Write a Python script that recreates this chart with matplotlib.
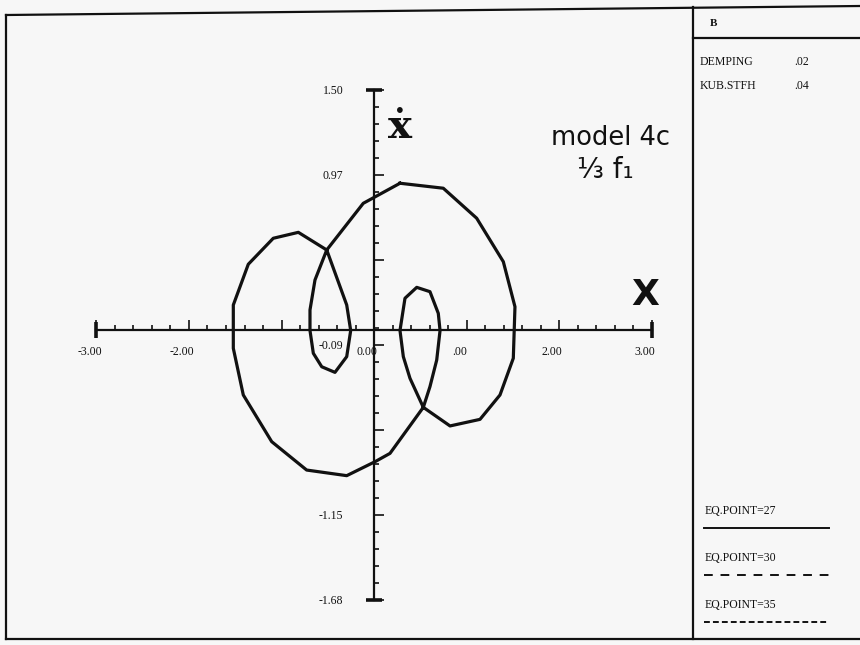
import matplotlib
matplotlib.use("Agg")
import matplotlib.pyplot as plt
from matplotlib.lines import Line2D
from matplotlib.transforms import ScaledTranslation

# Closed phase-plane orbit: displacement x and velocity x-dot
x_disp = [0.281, 0.749, 1.110, 1.398, 1.524, 1.506, 1.362, 1.146, 0.822, 0.533,
          0.389, 0.317, 0.281, 0.335, 0.462, 0.605, 0.695, 0.714, 0.678, 0.605,
          0.533, 0.173, 0.011, -0.295, -0.728, -1.106, -1.413, -1.521, -1.521,
          -1.359, -1.089, -0.818, -0.511, -0.295, -0.252, -0.295, -0.422, -0.565,
          -0.656, -0.692, -0.692, -0.638, -0.511, -0.116, 0.281]
x_vel = [0.918, 0.887, 0.700, 0.429, 0.148, -0.173, -0.402, -0.554, -0.595, -0.479,
         -0.298, -0.163, 0.000, 0.201, 0.269, 0.242, 0.107, 0.000, -0.184, -0.350,
         -0.479, -0.766, -0.818, -0.905, -0.870, -0.693, -0.402, -0.111, 0.159,
         0.413, 0.575, 0.612, 0.502, 0.159, 0.000, -0.163, -0.261, -0.226,
         -0.142, 0.000, 0.128, 0.315, 0.502, 0.793, 0.918]

x_ticks = [-3, -2, -1, 0, 1, 2, 3]
x_tick_labels = ["-3.00", "-2.00", "", "0.00", ".00", "2.00", "3.00"]
y_ticks = [1.50, 0.97, 0.44, -0.09, -0.62, -1.15, -1.68]
y_tick_labels = ["1.50", "0.97", "", "-0.09", "", "-1.15", "-1.68"]

param_names = ["DEMPING", "KUB.STFH"]
param_values = [".02", ".04"]
legend_labels = ["EQ.POINT=27", "EQ.POINT=30", "EQ.POINT=35"]

W, H = 860, 645
BG = "#f7f7f7"
INK = "#111111"
SERIF = ["Liberation Serif", "DejaVu Serif"]

fig = plt.figure(figsize=(W / 100, H / 100), dpi=100, facecolor=BG)
ax = fig.add_axes([0, 0, 1, 1])
ax.set_facecolor("none")

# data-to-pixel layout: origin at (374, 330.5), 92.5 px per x unit, 160.4 px per y unit
X0, SX, Y0, SY = 374.0, 92.5, 330.5, 160.4
ax.set_xlim(-X0 / SX, (W - X0) / SX)
ax.set_ylim((Y0 - H) / SY, Y0 / SY)

# axes crossing at the origin
for side in ("top", "right"):
    ax.spines[side].set_visible(False)
ax.spines["left"].set_position(("data", 0))
ax.spines["bottom"].set_position(("data", 0))
ax.spines["left"].set_bounds(-1.68, 1.50)
ax.spines["bottom"].set_bounds(-3, 3)
for side in ("left", "bottom"):
    ax.spines[side].set_linewidth(1.6)
    ax.spines[side].set_color(INK)

ax.set_xticks(x_ticks)
ax.set_xticklabels(x_tick_labels)
ax.set_xticks([v / 5 for v in range(-15, 16) if v % 5 != 0], minor=True)
ax.set_yticks(y_ticks)
ax.set_yticklabels(y_tick_labels)
y_minor = [round(1.50 - k * 0.106, 3) for k in range(31)]
ax.set_yticks([v for v in y_minor if all(abs(v - m) > 1e-3 for m in y_ticks)], minor=True)

ax.tick_params(axis="both", which="both", direction="in", color=INK, width=1.2)
ax.tick_params(axis="both", which="major", length=7)
ax.tick_params(axis="both", which="minor", length=3.5)
ax.tick_params(axis="x", which="major", pad=11, labelsize=8.5)
ax.tick_params(axis="y", which="major", pad=22, labelsize=8.5)
for lab in ax.get_xticklabels() + ax.get_yticklabels():
    lab.set_fontfamily(SERIF)
    lab.set_color(INK)
for lab in ax.get_xticklabels():
    lab.set_transform(lab.get_transform() + ScaledTranslation(-0.07, 0, fig.dpi_scale_trans))

# end caps on both axes
ax.plot([-3, 3], [0, 0], ls="none", marker="|", ms=11, mew=2.6, color=INK, clip_on=False)
ax.plot([0, 0], [1.50, -1.68], ls="none", marker="_", ms=11, mew=2.6, color=INK, clip_on=False)

# the orbit
ax.plot(x_disp, x_vel, color=INK, lw=2.3, solid_joinstyle="round", zorder=3)

# axis names and annotation
ax.text(0.28, 1.27, "\u1e8b", fontsize=29, family=["DejaVu Serif"], weight="bold",
        color=INK, ha="center", va="center")
ax.text(2.93, 0.22, "X", fontsize=26, family=["DejaVu Sans"], weight="bold", color=INK,
        ha="center", va="center")
ax.text(2.56, 1.20, "model 4c", fontsize=18.5, family=["DejaVu Sans"], color=INK,
        ha="center", va="center")
ax.text(2.50, 1.00, "\u2153 f\u2081", fontsize=20, family=["DejaVu Sans"], color=INK,
        ha="center", va="center")


def fp(xp, yp):
    return xp / W, 1 - yp / H


def frame_line(p, q, **kw):
    (x1, y1), (x2, y2) = fp(*p), fp(*q)
    fig.add_artist(Line2D([x1, x2], [y1, y2], transform=fig.transFigure,
                          color=kw.pop("color", INK), lw=kw.pop("lw", 1.6), **kw))


# outer frame and side panel
frame_line((6, 15), (W, 6))
frame_line((6, 15), (6, 639))
frame_line((6, 639), (W, 639))
frame_line((693, 7), (693, 639))
frame_line((693, 38), (W, 38))

fig.text(*fp(710, 23), "B", fontsize=8, family=SERIF, weight="bold", color=INK,
         va="center", ha="left")
for i, (name, val) in enumerate(zip(param_names, param_values)):
    fig.text(*fp(700, 62 + 24 * i), name, fontsize=8.5, family=SERIF, color=INK,
             va="center", ha="left")
    fig.text(*fp(794, 62 + 24 * i), val, fontsize=8.5, family=SERIF, color=INK,
             va="center", ha="left")

styles = [dict(ls="-"), dict(ls=(0, (4.5, 4))), dict(ls=(0, (3, 1.6)))]
for i, (lab, st) in enumerate(zip(legend_labels, styles)):
    ty = 511 + 47 * i
    fig.text(*fp(705, ty), lab, fontsize=8.5, family=SERIF, color=INK, va="center", ha="left")
    frame_line((704, ty + 17), (829, ty + 17), lw=1.4, **st)

fig.savefig("out.png", dpi=100, facecolor=BG)
